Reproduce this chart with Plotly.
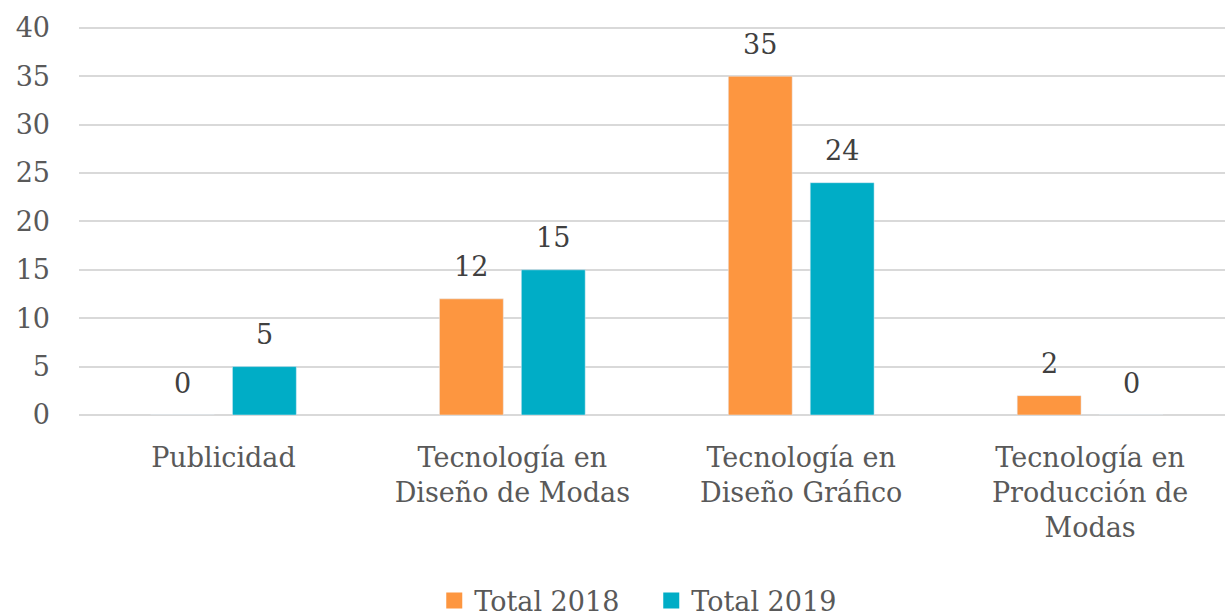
import plotly.graph_objects as go

categories = ["Publicidad", "Tecnología en<br>Diseño de Modas", "Tecnología en<br>Diseño Gráfico",
              "Tecnología en<br>Producción de<br>Modas"]
total_2018 = [0, 12, 35, 2]
total_2019 = [5, 15, 24, 0]
y_ticks = [0, 5, 10, 15, 20, 25, 30, 35, 40]

FONT = "DejaVu Serif"
GREY = "#595959"
ORANGE = "#FD9640"
TEAL = "#00ADC6"
SIZE = 27

fig = go.Figure()
fig.add_trace(go.Bar(x=categories, y=total_2018, name="Total 2018", marker_color=ORANGE,
                     showlegend=False))
fig.add_trace(go.Bar(x=categories, y=total_2019, name="Total 2019", marker_color=TEAL,
                     showlegend=False))

# legend entries with larger square swatches
for name, col in [("Total 2018", ORANGE), ("Total 2019", TEAL)]:
    fig.add_trace(go.Scatter(x=[None], y=[None], mode="markers", name=name,
                             marker=dict(symbol="square", size=18, color=col)))

# data labels
for series, shift in [(total_2018, -41), (total_2019, 41)]:
    for cat, val in zip(categories, series):
        fig.add_annotation(x=cat, y=val, text=str(val), showarrow=False,
                           xshift=shift, yshift=32, yanchor="middle", xanchor="center",
                           font=dict(size=SIZE, color="#404040", family=FONT))

fig.update_layout(
    width=1225, height=616,
    margin=dict(l=79, r=0, t=23, b=201),
    paper_bgcolor="white", plot_bgcolor="white",
    barmode="group", bargap=0.433, bargroupgap=0.22,
    font=dict(family=FONT, size=SIZE, color=GREY),
    showlegend=True,
    legend=dict(orientation="h", x=0.31, xanchor="left", yref="container", y=0.0244,
                yanchor="middle",
                font=dict(size=SIZE, color=GREY, family=FONT), traceorder="normal",
                entrywidth=172, itemsizing="trace"),
)
fig.update_xaxes(range=[-0.5, 3.467], showgrid=False, showline=False, ticks="",
                 automargin=False, ticklabelstandoff=24,
                 tickfont=dict(size=SIZE, color=GREY, family=FONT))
fig.update_yaxes(range=[0, 40.5], tickvals=y_ticks, showgrid=True, gridcolor="#D9D9D9", gridwidth=2,
                 zeroline=True, zerolinecolor="#D9D9D9", zerolinewidth=2,
                 ticks="", ticklabelstandoff=28, automargin=False,
                 tickfont=dict(size=SIZE, color=GREY, family=FONT))

fig.write_html("out.html", config={"displayModeBar": False},
               post_script="document.body.style.margin='0px';")
